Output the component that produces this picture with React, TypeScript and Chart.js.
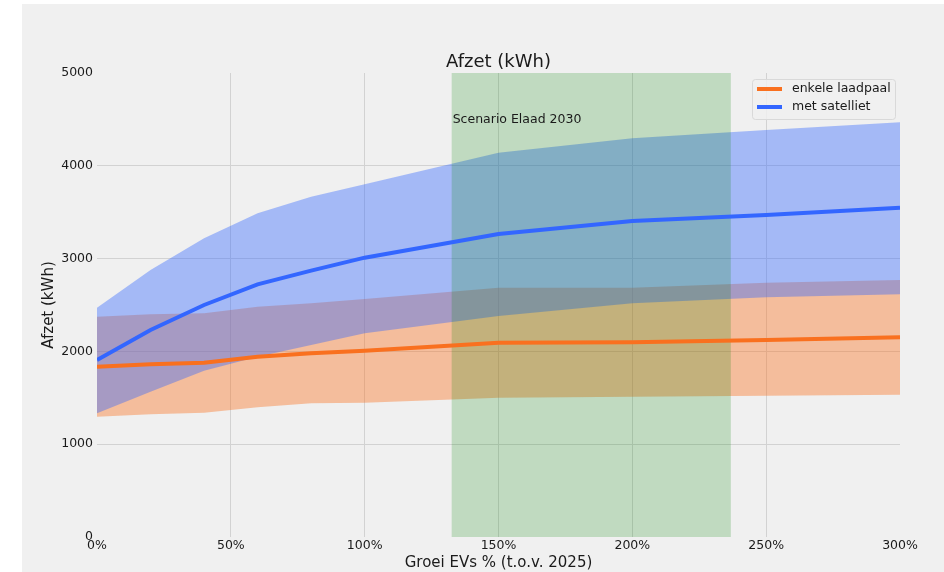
import React, { useEffect, useRef } from 'react';
import { Chart, registerables } from 'chart.js';

Chart.register(...registerables);

// ---- data ----
const growthPct = [0, 20, 40, 60, 80, 100, 150, 200, 250, 300];
const singleMean = [1835, 1861, 1878, 1943, 1979, 2008, 2094, 2098, 2123, 2152];
const singleLow = [1297, 1322, 1340, 1397, 1440, 1447, 1501, 1512, 1523, 1534];
const singleHigh = [2374, 2400, 2410, 2482, 2518, 2565, 2687, 2687, 2741, 2769];
const satMean = [1907, 2231, 2500, 2723, 2870, 3010, 3265, 3405, 3470, 3549];
const satLow = [1333, 1566, 1792, 1943, 2069, 2195, 2381, 2518, 2583, 2615];
const satHigh = [2471, 2877, 3219, 3488, 3667, 3800, 4141, 4296, 4386, 4468];
const scenarioSpan = [132.5, 236.8];
const seriesLabels = ['enkele laadpaal', 'met satelliet'];
const titleText = 'Afzet (kWh)';
const xTitle = 'Groei EVs % (t.o.v. 2025)';
const yTitle = 'Afzet (kWh)';
const scenarioLabel = 'Scenario Elaad 2030';

const ORANGE = '#f9701f';
const BLUE = '#3366ff';
const ORANGE_FILL = 'rgba(249,112,31,0.4)';
const BLUE_FILL = 'rgba(51,102,255,0.4)';
const GRID = '#d2d2d2';
const FONT = "'DejaVu Sans', sans-serif";
const TEXT = '#1a1a1a';

const pts = (arr: number[]) => growthPct.map((x, i) => ({ x, y: arr[i] }));

const decor = {
  id: 'decor',
  beforeDraw(chart: any) {
    const { ctx, width, height } = chart;
    ctx.save();
    ctx.fillStyle = '#ffffff';
    ctx.fillRect(0, 0, width, height);
    ctx.fillStyle = '#f0f0f0';
    ctx.fillRect(22, 4, width - 22, height - 4);
    ctx.restore();
  },
  beforeDatasetsDraw(chart: any) {
    const { ctx, chartArea: a, scales } = chart;
    const x0 = scales.x.getPixelForValue(scenarioSpan[0]);
    const x1 = scales.x.getPixelForValue(scenarioSpan[1]);
    ctx.save();
    ctx.fillStyle = 'rgba(0,128,0,0.2)';
    ctx.fillRect(x0, a.top, x1 - x0, a.bottom - a.top);
    ctx.restore();
  },
  afterDraw(chart: any) {
    const { ctx, chartArea: a, scales } = chart;
    ctx.save();
    ctx.fillStyle = TEXT;
    // title
    ctx.font = `18px ${FONT}`;
    ctx.textAlign = 'center';
    ctx.textBaseline = 'middle';
    ctx.fillText(titleText, (a.left + a.right) / 2, 62);
    // x title
    ctx.font = `15px ${FONT}`;
    ctx.fillText(xTitle, (a.left + a.right) / 2, 563);
    // y title
    ctx.save();
    ctx.translate(49, (a.top + a.bottom) / 2);
    ctx.rotate(-Math.PI / 2);
    ctx.fillText(yTitle, 0, 0);
    ctx.restore();
    // scenario text
    ctx.font = `12.5px ${FONT}`;
    ctx.textAlign = 'left';
    ctx.fillText(scenarioLabel, scales.x.getPixelForValue(scenarioSpan[0]) + 1, 120);
    // legend
    const bx = 752, by = 79, bw = 143, bh = 40;
    ctx.beginPath();
    ctx.roundRect(bx + 0.5, by + 0.5, bw, bh, 3);
    ctx.fillStyle = 'rgba(240,240,240,0.85)';
    ctx.fill();
    ctx.strokeStyle = '#d9d9d9';
    ctx.lineWidth = 1;
    ctx.stroke();
    const colors = [ORANGE, BLUE];
    seriesLabels.forEach((lab, i) => {
      const yy = 89 + i * 18;
      ctx.beginPath();
      ctx.strokeStyle = colors[i];
      ctx.lineWidth = 4;
      ctx.moveTo(757, yy);
      ctx.lineTo(782, yy);
      ctx.stroke();
      ctx.fillStyle = TEXT;
      ctx.font = `12.5px ${FONT}`;
      ctx.textAlign = 'left';
      ctx.textBaseline = 'middle';
      ctx.fillText(lab, 792, yy);
    });
    ctx.restore();
  },
};

export default function App() {
  const ref = useRef<HTMLCanvasElement | null>(null);
  useEffect(() => {
    if (!ref.current) return;
    const band = { borderWidth: 0, pointRadius: 0, tension: 0 };
    const chart = new Chart(ref.current, {
      type: 'line',
      data: {
        datasets: [
          { label: seriesLabels[1], data: pts(satMean), borderColor: BLUE, borderWidth: 4, pointRadius: 0, fill: false, tension: 0 },
          { label: 'sat-low', data: pts(satLow), ...band, fill: false },
          { label: 'sat-high', data: pts(satHigh), ...band, fill: 1, backgroundColor: BLUE_FILL },
          { label: seriesLabels[0], data: pts(singleMean), borderColor: ORANGE, borderWidth: 4, pointRadius: 0, fill: false, tension: 0 },
          { label: 'single-low', data: pts(singleLow), ...band, fill: false },
          { label: 'single-high', data: pts(singleHigh), ...band, fill: 4, backgroundColor: ORANGE_FILL },
        ] as any,
      },
      options: {
        animation: false,
        responsive: false,
        layout: { padding: { left: 0, top: 73, right: 44, bottom: 0 } },
        plugins: {
          legend: { display: false },
          tooltip: { enabled: false },
          title: { display: false },
          filler: { drawTime: 'beforeDatasetsDraw' },
        } as any,
        scales: {
          x: {
            type: 'linear',
            min: 0,
            max: 300,
            border: { display: false },
            grid: {
              drawTicks: false,
              lineWidth: 1,
              color: (c: any) => (c.tick && (c.tick.value === 0 || c.tick.value === 300) ? 'rgba(0,0,0,0)' : GRID),
            },
            ticks: {
              stepSize: 50,
              padding: 1,
              color: TEXT,
              font: { family: FONT, size: 12.5 },
              callback: (v: any) => `${v}%`,
              maxRotation: 0,
            },
            afterFit: (s: any) => { s.height = 35; },
          },
          y: {
            type: 'linear',
            min: 0,
            max: 5000,
            border: { display: false },
            grid: {
              drawTicks: false,
              lineWidth: 1,
              color: (c: any) => (c.tick && (c.tick.value === 0 || c.tick.value === 5000) ? 'rgba(0,0,0,0)' : GRID),
            },
            ticks: {
              stepSize: 1000,
              padding: 4,
              color: TEXT,
              font: { family: FONT, size: 12.5 },
              callback: (v: any) => String(v),
            },
            afterFit: (s: any) => { s.width = 97; },
          },
        },
      } as any,
      plugins: [decor],
    });
    return () => chart.destroy();
  }, []);
  return (
    <div style={{ position: 'fixed', left: 0, top: 0, width: 944, height: 572, background: '#fff' }}>
      <canvas ref={ref} width={944} height={572} style={{ display: 'block', width: 944, height: 572 }} />
    </div>
  );
}
